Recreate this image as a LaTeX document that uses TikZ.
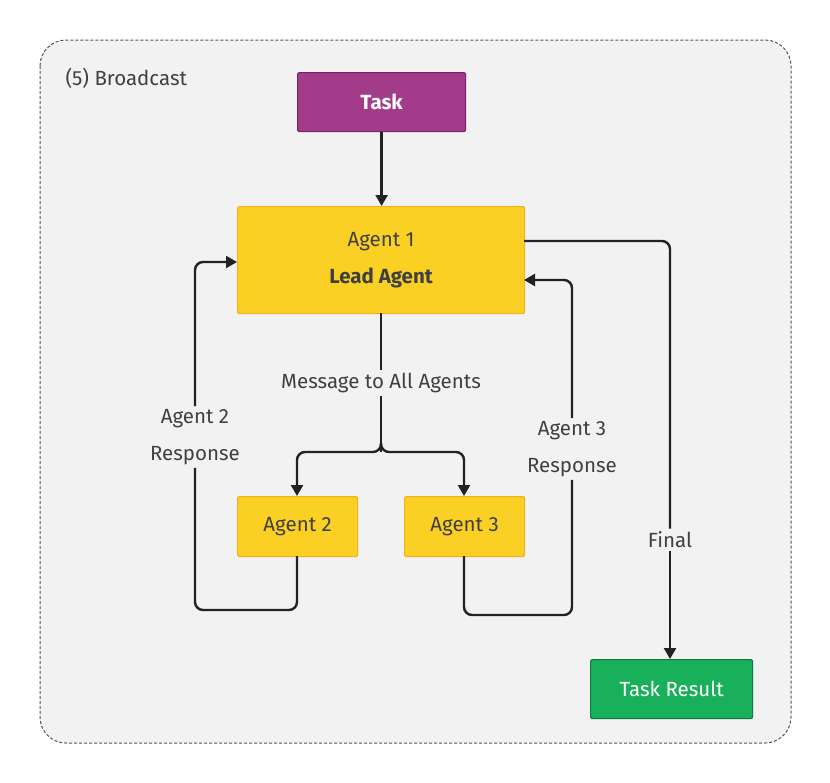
\documentclass[tikz,border=0pt]{standalone}
\usepackage{fontspec}
\setmainfont{Fira Sans}
\usetikzlibrary{arrows.meta}
\definecolor{bgbox}{HTML}{F2F2F2}
\definecolor{framegray}{HTML}{555555}
\definecolor{taskfill}{HTML}{A33B8B}
\definecolor{taskdraw}{HTML}{7D1F67}
\definecolor{agentfill}{HTML}{FAD024}
\definecolor{agentdraw}{HTML}{F5B01E}
\definecolor{resfill}{HTML}{18B05B}
\definecolor{resdraw}{HTML}{0F7A3F}
\definecolor{txtdark}{HTML}{404040}
\definecolor{linedark}{HTML}{222222}
\tikzset{
  box/.style={draw, line width=1.2pt, rounded corners=2pt, inner sep=0pt, anchor=north west},
  agent/.style={box, fill=agentfill, draw=agentdraw, text=txtdark, font=\fontsize{20.5}{37}\selectfont, align=center},
  conn/.style={draw=linedark, line width=2.4pt, rounded corners=8pt},
  arr/.style={conn, -{Triangle[length=11pt,width=12pt]}},
  lbl/.style={fill=bgbox, text=txtdark, font=\fontsize{20.5}{37}\selectfont, align=center, inner sep=3pt}
}
\begin{document}
\begin{tikzpicture}[x=1pt,y=-1pt]
\useasboundingbox (0,0) rectangle (830,782);
\fill[white] (0,0) rectangle (830,782);
\draw[fill=bgbox, draw=framegray, dashed, dash pattern=on 3pt off 2pt, line width=1pt, rounded corners=26pt] (40,40) rectangle (791,743);
\node[anchor=west, text=txtdark, font=\fontsize{20.5}{24}\selectfont] (title) at (62,78) {(5) Broadcast};

\node[box, fill=taskfill, draw=taskdraw, text=white, font=\fontsize{20.5}{24}\selectfont\bfseries, minimum width=168pt, minimum height=59pt] (task) at (297,72) {Task};
\node[agent, minimum width=287pt, minimum height=107pt] (a1) at (237,206) {Agent 1\\\textbf{Lead Agent}};
\node[agent, minimum width=120pt, minimum height=60pt] (a2) at (237,496) {Agent 2};
\node[agent, minimum width=120pt, minimum height=60pt] (a3) at (404,496) {Agent 3};
\node[box, fill=resfill, draw=resdraw, text=white, font=\fontsize{20.5}{24}\selectfont, minimum width=162pt, minimum height=59pt] (res) at (590,659) {Task Result};

\coordinate (a1b) at (381,313);
\coordinate (a1l) at (237,262);
\coordinate (a1r) at (524,280);
\coordinate (a1f) at (524,241);
\coordinate (a2b) at (297,556);
\coordinate (a3b) at (464,556);
\coordinate (a2t) at (297,496);
\coordinate (a3t) at (464,496);
\coordinate (junc) at (381,452);

\draw[arr] (task.south) -- (task.south |- a1.north);

% broadcast
\node[lbl] (msg) at (381,383) {Message to All Agents};
\draw[conn] (a1b) -- (msg.north);
\draw[conn] (msg.south) -- (junc);
\draw[arr] (381,443) -- (junc) -| (a2t);
\draw[arr] (381,443) -- (junc) -| (a3t);

% Agent 2 response
\node[lbl] (r2) at (195,437) {Agent 2\\Response};
\draw[conn] (a2b) |- (195,610) -- (r2.south);
\draw[arr] (r2.north) |- (a1l);

% Agent 3 response
\node[lbl] (r3) at (572,449) {Agent 3\\Response};
\draw[conn] (a3b) |- (572,615) -- (r3.south);
\draw[arr] (r3.north) |- (a1r);

% Final
\node[lbl] (fin) at (670,540) {Final};
\draw[conn] (a1f) -| (fin.north);
\draw[arr] (fin.south) -- (fin.south |- res.north);
\end{tikzpicture}
\end{document}
